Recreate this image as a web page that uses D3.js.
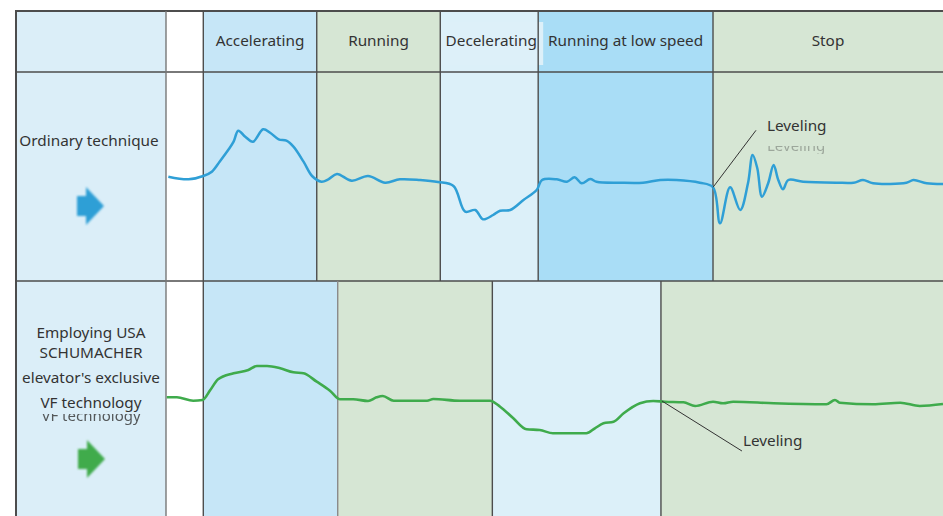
<!DOCTYPE html>
<html>
<head>
<meta charset="utf-8">
<script src="https://cdn.jsdelivr.net/npm/d3@7/dist/d3.min.js"></script>
<style>
  html, body { margin: 0; padding: 0; background: #fff; }
  svg { display: block; }
  text { font-family: "Noto Sans", "Open Sans", sans-serif; fill: #333; }
</style>
</head>
<body>
<svg id="chart" width="943" height="516"></svg>
<script>
// Phases of an elevator trip (time axis runs 0..100)
const phases1 = ["Accelerating", "Running", "Decelerating", "Running at low speed", "Stop"];
const bounds1 = [4.8, 19.4, 35.3, 47.9, 70.4, 100];
const phases2 = ["Accelerating", "Running", "Decelerating", "Stop"];
const bounds2 = [4.8, 22.1, 42.0, 63.7, 100];

// Ride-comfort trace, ordinary technique
const ordT = [0.3, 2.9, 4.8, 5.9, 6.9, 8.0, 8.7, 9.3, 10.2, 11.2, 12.5, 13.4, 14.5, 15.5, 16.4, 17.7, 18.8, 20.0, 20.9, 22.0,
  23.9, 26.0, 28.2, 30.1, 32.7, 35.0, 37.0, 38.5, 39.8, 40.8, 42.1, 43.0, 44.3, 46.0, 47.7, 48.4, 50.3, 51.6, 52.6, 53.5,
  54.6, 55.4, 58.4, 61.4, 63.6, 65.7, 68.7, 70.4, 71.3, 72.6, 73.9, 74.9, 75.5, 76.1, 76.7, 77.5, 78.2, 78.8, 79.4, 80.1,
  82.0, 86.3, 88.5, 89.7, 91.0, 95.3, 96.2, 97.9, 100];
const ordV = [0.38, 0.12, 0.45, 0.88, 1.88, 3.05, 3.88, 4.98, 4.38, 3.88, 5.12, 4.78, 4.12, 3.98, 3.38, 1.88, 0.45, -0.12, 0.12, 0.65,
  -0.02, 0.45, -0.22, 0.12, 0.05, -0.15, -0.55, -3.12, -2.95, -3.88, -3.45, -3.02, -2.95, -1.95, -0.95, 0.05, 0.12, -0.12, 0.32, -0.28,
  0.15, -0.12, -0.22, -0.22, 0.05, 0.05, -0.22, -0.68, -4.28, -0.68, -2.95, -0.28, 2.55, 1.22, -1.62, -0.28, 1.55, 0.05, -0.88, 0.05,
  -0.12, -0.22, -0.22, 0.05, -0.28, -0.22, 0.05, -0.28, -0.35];

// Ride-comfort trace, VF technology
const vfT = [0.1, 1.4, 3.5, 4.7, 5.7, 6.7, 8.7, 10.6, 11.7, 13.0, 14.7, 16.4, 17.7, 19.4, 21.1, 22.4, 24.1, 26.0, 27.1, 27.9,
  29.3, 33.6, 34.4, 37.8, 41.7, 43.0, 44.7, 46.4, 48.1, 49.8, 54.1, 55.2, 56.3, 57.6, 58.9, 61.0, 62.7, 64.2, 66.6, 68.1,
  70.4, 71.7, 73.0, 78.2, 85.0, 86.1, 86.7, 91.0, 94.5, 97.0, 100];
const vfV = [0.37, 0.37, 0.03, 0.1, 1.1, 2.17, 2.77, 3.1, 3.5, 3.5, 3.27, 2.87, 2.77, 1.93, 1.03, 0.17, 0.17, 0, 0.37, 0.5,
  0.03, 0.03, 0.2, 0.03, 0.03, -0.57, -1.73, -2.83, -2.9, -3.23, -3.23, -2.73, -2.23, -2.07, -1.23, -0.23, 0, -0.07, -0.13, -0.5,
  -0.07, -0.23, -0.07, -0.23, -0.33, 0.1, -0.17, -0.33, -0.17, -0.5, -0.3];

const rowLabel1 = ["Ordinary technique"];
const rowLabel2 = ["Employing USA", "SCHUMACHER", "elevator's exclusive", "VF technology"];
const levelingT1 = 70.4;
const levelingT2 = 63.7;

// ---- layout & styles ----
const W = 943, H = 516;
const leftX = 16, labelRight = 166, topY = 11, headBottom = 72, row1Bottom = 281;
const phaseFill = {
  "Accelerating": "#c6e6f7",
  "Running": "#d6e6d4",
  "Decelerating": "#dcf0f9",
  "Running at low speed": "#a9ddf6",
  "Stop": "#d6e6d4"
};
const labelFill = "#dbeef8";
const gridColor = "#4d4d4d";
const blue = "#2f9fd6", green = "#3fab4c";

const svg = d3.select("#chart");
const x = d3.scaleLinear().domain([0, 100]).range([labelRight, W]);
const y1 = d3.scaleLinear().domain([-5, 5]).range([230.5, 130.5]);
const y2 = d3.scaleLinear().domain([-5, 5]).range([451, 351]);

const defs = svg.append("defs");
defs.append("filter").attr("id", "soft").append("feGaussianBlur").attr("stdDeviation", 1.1);
defs.append("clipPath").attr("id", "ghostClip").append("rect")
  .attr("x", 20).attr("y", 414).attr("width", 145).attr("height", 20);
defs.append("clipPath").attr("id", "ghostClip2").append("rect")
  .attr("x", 740).attr("y", 146).attr("width", 100).attr("height", 8);

// label column (white gap between it and the time axis shows through)
svg.append("rect").attr("x", leftX).attr("y", topY).attr("width", labelRight - leftX).attr("height", H - topY).attr("fill", labelFill);

function phaseCells(names, bounds, yTop, yBottom) {
  svg.append("g").selectAll("rect").data(names).join("rect")
    .attr("x", (d, i) => x(bounds[i]))
    .attr("y", yTop)
    .attr("width", (d, i) => x(bounds[i + 1]) - x(bounds[i]))
    .attr("height", yBottom - yTop)
    .attr("fill", d => phaseFill[d]);
}
phaseCells(phases1, bounds1, topY, row1Bottom);
phaseCells(phases2, bounds2, row1Bottom, H);

// header box behind "Decelerating"
svg.append("rect")
  .attr("x", x(bounds1[2])).attr("y", 22)
  .attr("width", x(bounds1[3]) - x(bounds1[2]) + 5).attr("height", 43)
  .attr("fill", "#ddf0f9");

// grid lines
const grid = svg.append("g").attr("stroke", gridColor).attr("stroke-width", 1.4);
grid.append("line").attr("x1", leftX - 1).attr("x2", W).attr("y1", topY).attr("y2", topY).attr("stroke-width", 2);
grid.append("line").attr("x1", leftX).attr("x2", leftX).attr("y1", topY).attr("y2", H).attr("stroke-width", 2);
grid.append("line").attr("x1", leftX).attr("x2", W).attr("y1", headBottom).attr("y2", headBottom);
grid.append("line").attr("x1", leftX).attr("x2", W).attr("y1", row1Bottom).attr("y2", row1Bottom);
grid.append("line").attr("x1", labelRight).attr("x2", labelRight).attr("y1", topY).attr("y2", H).attr("stroke", "#777");
grid.selectAll(".v1").data(bounds1.slice(0, -1)).join("line").attr("class", "v1")
  .attr("x1", d => x(d)).attr("x2", d => x(d)).attr("y1", topY).attr("y2", row1Bottom);
grid.selectAll(".v2").data(bounds2.slice(0, -1)).join("line").attr("class", "v2")
  .attr("x1", d => x(d)).attr("x2", d => x(d)).attr("y1", row1Bottom).attr("y2", H)
  .attr("stroke", (d, i) => i === 1 ? "#8a8a8a" : gridColor);

// header labels
svg.append("g").selectAll("text").data(phases1).join("text")
  .attr("x", (d, i) => (x(bounds1[i]) + x(bounds1[i + 1])) / 2 + (i === 2 ? 2 : 0))
  .attr("y", 46)
  .attr("text-anchor", "middle")
  .attr("font-size", 15.3)
  .text(d => d);

// row labels
const labelX = (leftX + labelRight) / 2;
svg.append("text").attr("x", labelX - 2).attr("y", 146).attr("text-anchor", "middle").attr("font-size", 15.3)
  .text(rowLabel1[0]);
// faint duplicate line peeking from under the text box
svg.append("text").attr("x", labelX).attr("y", 421).attr("text-anchor", "middle").attr("font-size", 15)
  .attr("clip-path", "url(#ghostClip)").attr("opacity", 0.8).text(rowLabel2[3]);
svg.append("g").selectAll("text").data(rowLabel2).join("text")
  .attr("x", labelX).attr("y", (d, i) => [338, 358, 383, 408][i])
  .attr("text-anchor", "middle").attr("font-size", 15.3)
  .text(d => d);

// arrows
function arrow(cx, cy, color) {
  const p = d3.path();
  p.moveTo(cx - 13, cy - 10); p.lineTo(cx - 4, cy - 10); p.lineTo(cx - 4, cy - 19);
  p.lineTo(cx + 14, cy); p.lineTo(cx - 4, cy + 19); p.lineTo(cx - 4, cy + 10);
  p.lineTo(cx - 13, cy + 10); p.closePath();
  svg.append("path").attr("d", p.toString()).attr("fill", color).attr("filter", "url(#soft)");
}
arrow(90, 206, blue);
arrow(91, 459, green);

// traces: centripetal Catmull-Rom keeps the sharp peaks of the ordinary trace, the VF trace is smoothed
const line = (ys, curve) => d3.line().x(d => x(d[0])).y(d => ys(d[1])).curve(curve);
svg.append("path").datum(d3.zip(ordT, ordV))
  .attr("d", line(y1, d3.curveCatmullRom.alpha(0.5))).attr("fill", "none").attr("stroke", blue).attr("stroke-width", 2.5)
  .attr("stroke-linejoin", "round");
svg.append("path").datum(d3.zip(vfT, vfV))
  .attr("d", line(y2, d3.curveMonotoneX)).attr("fill", "none").attr("stroke", green).attr("stroke-width", 2.6)
  .attr("stroke-linejoin", "round");

// leveling callouts
const lv1 = [x(levelingT1), y1(ordV[ordT.indexOf(levelingT1)])];
svg.append("line").attr("x1", lv1[0]).attr("y1", lv1[1]).attr("x2", lv1[0] + 43).attr("y2", lv1[1] - 57)
  .attr("stroke", "#333").attr("stroke-width", 1);
svg.append("text").attr("x", lv1[0] + 54).attr("y", 131).attr("font-size", 15.3).text("Leveling");
svg.append("text").attr("x", lv1[0] + 54).attr("y", 151).attr("font-size", 15)
  .attr("clip-path", "url(#ghostClip2)").attr("opacity", 0.35).text("Leveling");

const lv2 = [x(levelingT2), y2(0)];
svg.append("line").attr("x1", lv2[0] + 1).attr("y1", lv2[1]).attr("x2", lv2[0] + 81).attr("y2", lv2[1] + 50)
  .attr("stroke", "#333").attr("stroke-width", 1);
svg.append("text").attr("x", lv2[0] + 82).attr("y", 446).attr("font-size", 15.3).text("Leveling");
</script>
</body>
</html>
